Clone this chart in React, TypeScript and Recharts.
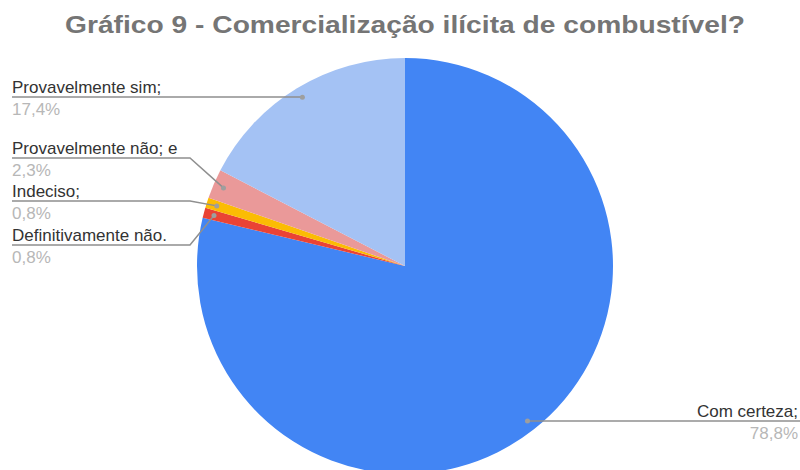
import React from "react";
import { PieChart, Pie, Cell } from "recharts";

// answers, in the order the slices run clockwise from 12 o'clock
const names = ["Com certeza;", "Definitivamente não.", "Indeciso;", "Provavelmente não; e", "Provavelmente sim;"];
const values = [78.8, 0.8, 0.8, 2.3, 17.4];
const percentLabels = ["78,8%", "0,8%", "0,8%", "2,3%", "17,4%"];
const colors = ["#4285F4", "#EA4335", "#FBBC04", "#EA9999", "#A4C2F4"];

const data = names.map((name, i) => ({ name, value: values[i], pct: percentLabels[i] }));

// where each leader line meets its text (y of the underline), and which side
const labelLineY = [421, 245, 201, 158, 97];
const labelSide = ["right", "left", "left", "left", "left"];

const RADIAN = Math.PI / 180;
const FONT = "Arial, 'Liberation Sans', sans-serif";

const renderLabel = (props: any) => {
  const { cx, cy, midAngle, outerRadius, index } = props;
  const r = outerRadius * 0.95;
  const px = cx + r * Math.cos(-midAngle * RADIAN);
  const py = cy + r * Math.sin(-midAngle * RADIAN);
  const ly = labelLineY[index];
  const entry = data[index];
  const right = labelSide[index] === "right";
  const tx = right ? 798 : 12;
  const anchor = right ? "end" : "start";

  const pts = right
    ? `${px},${py} 800,${ly}`
    : `12,${ly} ${Math.abs(py - ly) < 3 ? px : 190},${ly} ${px},${py}`;

  return (
    <g>
      <polyline points={pts} fill="none" stroke="#8f8f8f" strokeWidth={1.5} />
      <circle cx={px} cy={py} r={2.5} fill="#9e9e9e" />
      <text x={tx} y={ly - 4} textAnchor={anchor} fontSize={17} fontFamily={FONT} fill="#333">{entry.name}</text>
      <text x={tx} y={ly + 18} textAnchor={anchor} fontSize={17} fontFamily={FONT} fill="#b7b7b7">{entry.pct}</text>
    </g>
  );
};

const App: React.FC = () => {
  return (
    <div style={{ position: "absolute", left: 0, top: 0, width: 800, height: 470, background: "#fff" }}>
      <PieChart width={800} height={470} margin={{ top: 0, right: 0, bottom: 0, left: 0 }}>
        <text
          x={405}
          y={33}
          textAnchor="middle"
          fontSize={24.5}
          fontWeight="bold"
          fontFamily={FONT}
          fill="#757575"
          textLength={680}
          lengthAdjust="spacingAndGlyphs"
        >
          Gráfico 9 - Comercialização ilícita de combustível?
        </text>
        <Pie
          data={data}
          dataKey="value"
          cx={405}
          cy={266}
          outerRadius={208}
          startAngle={90}
          endAngle={-270}
          stroke="none"
          label={renderLabel}
          labelLine={false}
          isAnimationActive={false}
        >
          {data.map((entry, index) => (
            <Cell key={`cell-${index}`} fill={colors[index]} />
          ))}
        </Pie>
      </PieChart>
    </div>
  );
};

export default App;
